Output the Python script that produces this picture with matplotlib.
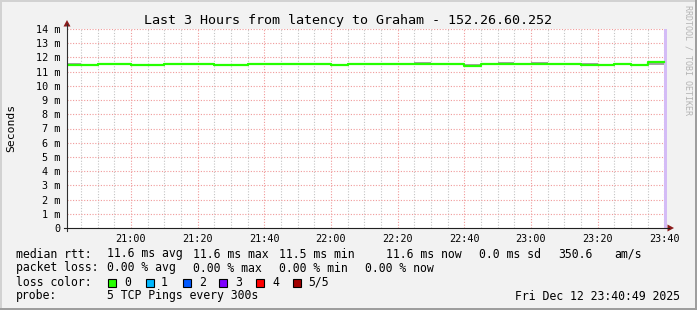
import matplotlib
matplotlib.use("Agg")
import matplotlib.pyplot as plt
from matplotlib.patches import Rectangle, Polygon
from matplotlib.lines import Line2D

W, H = 697, 310

# 5 minute rrd steps (start of each interval)
step_times = ["20:40", "20:45", "20:50", "20:55", "21:00", "21:05", "21:10", "21:15",
              "21:20", "21:25", "21:30", "21:35", "21:40", "21:45", "21:50", "21:55",
              "22:00", "22:05", "22:10", "22:15", "22:20", "22:25", "22:30", "22:35",
              "22:40", "22:45", "22:50", "22:55", "23:00", "23:05", "23:10", "23:15",
              "23:20", "23:25", "23:30", "23:35"]
median_ms = [11.48, 11.48, 11.55, 11.55, 11.48, 11.48, 11.55, 11.55,
             11.55, 11.48, 11.48, 11.55, 11.55, 11.55, 11.55, 11.55,
             11.48, 11.55, 11.57, 11.57, 11.57, 11.57, 11.57, 11.57,
             11.42, 11.57, 11.57, 11.57, 11.57, 11.57, 11.57, 11.50,
             11.48, 11.57, 11.48, 11.68]
smoke_lo = [11.46, 11.46, 11.53, 11.53, 11.46, 11.46, 11.53, 11.53,
            11.53, 11.46, 11.46, 11.47, 11.53, 11.53, 11.53, 11.53,
            11.46, 11.53, 11.47, 11.55, 11.55, 11.55, 11.55, 11.55,
            11.40, 11.55, 11.55, 11.50, 11.55, 11.55, 11.55, 11.48,
            11.46, 11.55, 11.46, 11.49]
smoke_hi = [11.62, 11.50, 11.57, 11.57, 11.57, 11.57, 11.57, 11.57,
            11.57, 11.57, 11.50, 11.57, 11.57, 11.57, 11.57, 11.57,
            11.50, 11.57, 11.59, 11.59, 11.59, 11.67, 11.59, 11.59,
            11.52, 11.59, 11.67, 11.59, 11.67, 11.59, 11.59, 11.58,
            11.50, 11.59, 11.57, 11.70]

x_ticks = ["21:00", "21:20", "21:40", "22:00", "22:20", "22:40", "23:00", "23:20", "23:40"]
y_ticks = list(range(15))
y_labels = ["0", "1 m", "2 m", "3 m", "4 m", "5 m", "6 m", "7 m", "8 m", "9 m",
            "10 m", "11 m", "12 m", "13 m", "14 m"]

title = "Last 3 Hours from latency to Graham - 152.26.60.252"
row_rtt = ["median rtt:", "11.6 ms avg", "11.6 ms max", "11.5 ms min",
           "11.6 ms now", "0.0 ms sd", "350.6", "am/s"]
row_loss = ["packet loss:", "0.00 % avg", "0.00 % max", "0.00 % min", "0.00 % now"]
loss_labels = ["0", "1", "2", "3", "4", "5/5"]
loss_colors = ["#26ff00", "#00b8ff", "#0059ff", "#7e00ff", "#ff0000", "#a10000"]
probe_text = "5 TCP Pings every 300s"
stamp = "Fri Dec 12 23:40:49 2025"


def t2s(s):
    h, m = s.split(":")
    return int(h) * 3600 + int(m) * 60


def px(x, y):
    return x / W, 1 - y / H


plt.rcParams['font.family'] = ['DejaVu Sans Mono']

fig = plt.figure(figsize=(W / 100, H / 100), dpi=100, facecolor="#f2f2f2")

# 3d frame
fig.add_artist(Rectangle((0, 1 - 2 / H), 1, 2 / H, transform=fig.transFigure, color="#d2d2d2", lw=0))
fig.add_artist(Rectangle((0, 0), 2 / W, 1, transform=fig.transFigure, color="#d2d2d2", lw=0))
fig.add_artist(Rectangle((0, 0), 1, 2 / H, transform=fig.transFigure, color="#9e9e9e", lw=0))
fig.add_artist(Rectangle((1 - 2 / W, 0), 2 / W, 1, transform=fig.transFigure, color="#9e9e9e", lw=0))

ax = fig.add_axes([67 / W, (H - 228) / H, 600 / W, 199 / H])
ax.set_facecolor("white")
x0 = t2s("20:40") + 49
x1 = t2s("23:40") + 49
ax.set_xlim(x0, x1)
ax.set_ylim(0, 14)

xs = [t2s(t) for t in step_times]
edges = xs + [t2s("23:40")]

# grid
for m in range(t2s("20:45"), x1, 300):
    major = (m - t2s("21:00")) % 1200 == 0
    ax.axvline(m, color="#f09a9a" if major else "#c4c4c4", lw=0.8,
               ls=(0, (1, 1.5)), zorder=1)
for v in y_ticks[1:]:
    ax.axhline(v, color="#f09a9a", lw=0.8, ls=(0, (1, 1.5)), zorder=1)

# unknown/now band
ax.axvspan(t2s("23:40"), x1, color="#d4bcf6", lw=0, zorder=2)

# smoke and median
ax.fill_between(edges, smoke_lo + [smoke_lo[-1]], smoke_hi + [smoke_hi[-1]],
                step="post", color="#a4a4a4", lw=0, zorder=3)
ax.step(edges, median_ms + [median_ms[-1]], where="post", color="#26ff00",
        lw=1.6, zorder=4)

ax.set_xticks([t2s(t) for t in x_ticks])
ax.set_xticklabels(x_ticks)
ax.set_yticks(y_ticks)
ax.set_yticklabels(y_labels)
ax.tick_params(length=0, labelsize=7.3)
ax.tick_params(axis="x", pad=4.3)
ax.tick_params(axis="y", pad=5.0)
for s in ax.spines.values():
    s.set_visible(False)

# axes with arrows
fig.add_artist(Line2D(*zip(px(67, 231), px(67, 24)), transform=fig.transFigure, color="#303030", lw=0.8))
fig.add_artist(Line2D(*zip(px(64, 228), px(669, 228)), transform=fig.transFigure, color="#202020", lw=0.8))
fig.add_artist(Polygon([px(67, 20), px(63.5, 26.5), px(70.5, 26.5)], closed=True,
                       transform=fig.transFigure, color="#8b1a1a", lw=0))
fig.add_artist(Polygon([px(674, 228), px(667.5, 224.5), px(667.5, 231.5)], closed=True,
                       transform=fig.transFigure, color="#8b1a1a", lw=0))

fig.text(*px(348, 24), title, ha="center", va="baseline", fontsize=9.6)
fig.text(*px(11, 128), "Seconds", ha="center", va="center", rotation=90, fontsize=8.2)
fig.text(*px(688, 60), "RRDTOOL / TOBI OETIKER", ha="center", va="center",
         rotation=270, fontsize=6, color="#b4b4b4")

fs = 8.3
rtt_x = [16, 107, 193, 279, 386, 479, 558, 614]
for s, x in zip(row_rtt, rtt_x):
    fig.text(*px(x, 257.5), s, ha="left", va="baseline", fontsize=fs)
loss_x = [16, 107, 193, 279, 365]
for s, x in zip(row_loss, loss_x):
    fig.text(*px(x, 271.5), s, ha="left", va="baseline", fontsize=fs)
fig.text(*px(16, 285.5), "loss color:", ha="left", va="baseline", fontsize=fs)
box_x = [108, 146, 183, 219, 256, 293]
lab_x = [124, 161, 199, 235, 272, 308]
for lab, c, bx, lx in zip(loss_labels, loss_colors, box_x, lab_x):
    fig.add_artist(Rectangle(px(bx, 286.5), 8 / W, 8 / H, transform=fig.transFigure,
                             facecolor=c, edgecolor="black", lw=0.8))
    fig.text(*px(lx, 285.5), lab, ha="left", va="baseline", fontsize=fs)
fig.text(*px(16, 299.5), "probe:", ha="left", va="baseline", fontsize=fs)
fig.text(*px(107, 299.5), probe_text, ha="left", va="baseline", fontsize=fs)
fig.text(*px(680, 299.5), stamp, ha="right", va="baseline", fontsize=fs)

fig.savefig("out.png", dpi=100, facecolor=fig.get_facecolor())
